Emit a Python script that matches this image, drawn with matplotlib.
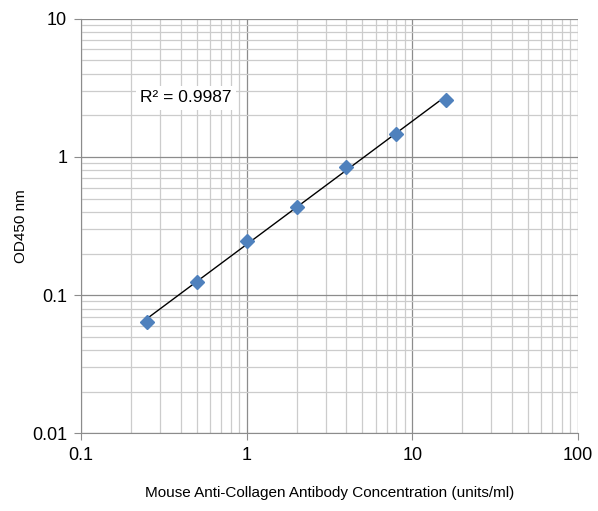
import numpy as np
import matplotlib.pyplot as plt
from matplotlib.ticker import LogLocator, FixedLocator, NullFormatter

plt.rcParams['font.family'] = ['Liberation Sans', 'DejaVu Sans']

# Standard curve data
conc = [0.25, 0.5, 1, 2, 4, 8, 16]
od450 = [0.0634, 0.125, 0.248, 0.437, 0.851, 1.475, 2.60]
r2_label = 'R² = 0.9987'

fig = plt.figure(figsize=(5.98, 5.11), dpi=100)
ax = fig.add_axes([0.1355, 0.152, 0.831, 0.8114])

ax.set_xscale('log')
ax.set_yscale('log')
ax.set_xlim(0.1, 100)
ax.set_ylim(0.01, 10)

# Power trendline (straight line in log-log space)
lx, ly = np.log10(conc), np.log10(od450)
slope, icpt = np.polyfit(lx, ly, 1)
xs = np.logspace(lx[0], lx[-1], 50)
ax.plot(xs, 10 ** (icpt + slope * np.log10(xs)), color='black', lw=1.0, zorder=3)

ax.plot(conc, od450, linestyle='none', marker='D', markersize=7.5,
        color='#4F81BD', zorder=4)

# Gridlines
ax.xaxis.set_major_locator(FixedLocator([0.1, 1, 10, 100]))
ax.yaxis.set_major_locator(FixedLocator([0.01, 0.1, 1, 10]))
ax.xaxis.set_minor_locator(LogLocator(base=10, subs=np.arange(2, 10)))
ax.yaxis.set_minor_locator(LogLocator(base=10, subs=np.arange(2, 10)))
ax.xaxis.set_minor_formatter(NullFormatter())
ax.yaxis.set_minor_formatter(NullFormatter())
ax.set_xticklabels(['0.1', '1', '10', '100'])
ax.set_yticklabels(['0.01', '0.1', '1', '10'])
ax.grid(True, which='major', color='#8c8c8c', lw=0.9)
ax.grid(True, which='minor', color='#cccccc', lw=0.9)
ax.set_axisbelow(True)

for side in ['top', 'right']:
    ax.spines[side].set_visible(False)
for side in ['left', 'bottom']:
    ax.spines[side].set_color('#8c8c8c')
ax.tick_params(which='major', length=5, color='#8c8c8c', labelsize=13, pad=5)
ax.tick_params(which='minor', length=0)

ax.set_xlabel('Mouse Anti-Collagen Antibody Concentration (units/ml)',
              fontsize=11, labelpad=16)
ax.set_ylabel('OD450 nm', fontsize=11, labelpad=3)

ax.text(0.119, 0.809, r2_label, transform=ax.transAxes, fontsize=12.5,
        va='center', ha='left',
        bbox=dict(facecolor='white', edgecolor='none', pad=3))

fig.savefig('out.png', dpi=100)
